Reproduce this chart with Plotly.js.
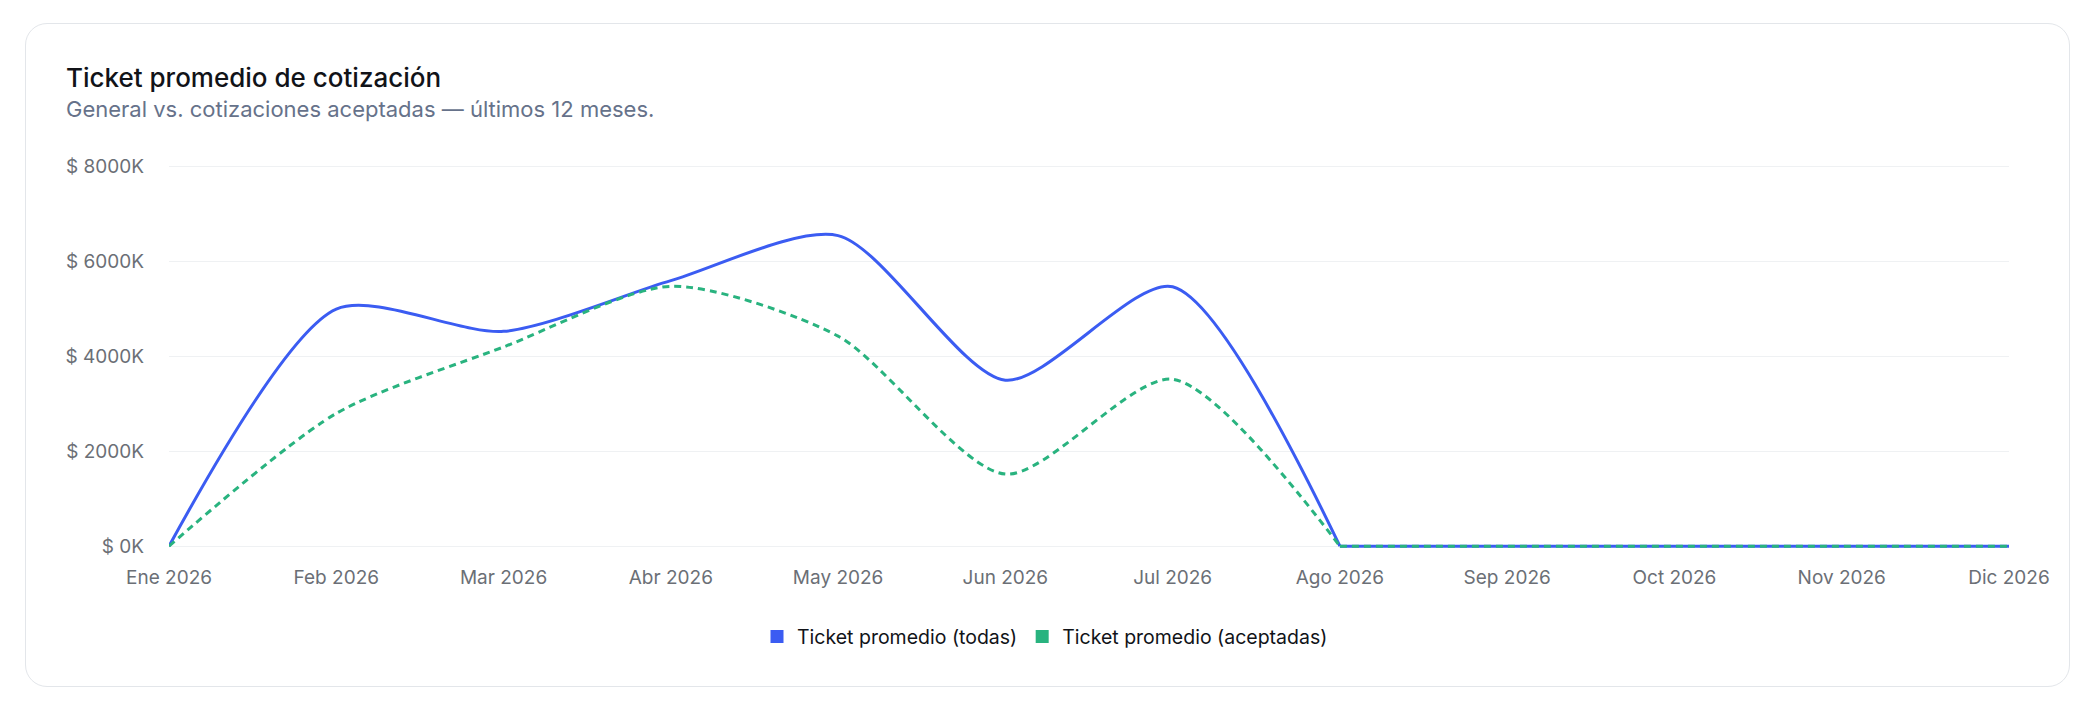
<!DOCTYPE html>
<html>
<head>
<meta charset="utf-8">
<script src="https://cdn.plot.ly/plotly-3.0.1.min.js"></script>
<style>
  html, body { margin: 0; padding: 0; background: #ffffff; width: 2090px; height: 707px; overflow: hidden; }
  #card { position: absolute; left: 25px; top: 23px; width: 2043px; height: 662px; border: 1.5px solid #e3e6ea; border-radius: 22px; background: #fff; }
  #chart { position: absolute; left: 0; top: 0; width: 2090px; height: 707px; }
</style>
</head>
<body>
<div id="card"></div>
<div id="chart"></div>
<script>
// Data (values in thousands of pesos)
const months = ["Ene 2026", "Feb 2026", "Mar 2026", "Abr 2026", "May 2026", "Jun 2026",
                "Jul 2026", "Ago 2026", "Sep 2026", "Oct 2026", "Nov 2026", "Dic 2026"];
const ticketTodas = [0, 5000, 4530, 5600, 6550, 3500, 5470, 0, 0, 0, 0, 0];
const ticketAceptadas = [0, 2800, 4200, 5480, 4430, 1520, 3520, 0, 0, 0, 0, 0];
const yTicks = [0, 2000, 4000, 6000, 8000];
const seriesNames = ["Ticket promedio (todas)", "Ticket promedio (aceptadas)"];

const blue = "#3b5cf2";
const green = "#29b37f";
const FONT = "Inter, 'Noto Sans', sans-serif";

// first month of the flat (zero) tail
const lastActive = 7;

const W = 2090, H = 707;
const yMin = -60, yMax = 8060;
const pxPerUnit = 379 / 8000;
const L = 169, R = 2009;
const T = 167 - (yMax - 8000) * pxPerUnit;
const B = 546 - yMin * pxPerUnit;
const pw = R - L, ph = B - T;

function segs(vals, color, dash, name) {
  const line = { color: color, width: 3 };
  if (dash) line.dash = dash;
  return [
    {
      x: months.slice(0, lastActive + 1), y: vals.slice(0, lastActive + 1),
      type: "scatter", mode: "lines",
      line: Object.assign({}, line, { shape: "spline", smoothing: 0.75 }),
      name: name, showlegend: false, hoverinfo: "skip"
    },
    {
      x: months.slice(lastActive), y: vals.slice(lastActive),
      type: "scatter", mode: "lines",
      line: Object.assign({}, line, { shape: "linear" }),
      name: name, showlegend: false, hoverinfo: "skip"
    }
  ];
}

const traces = [
  ...segs(ticketTodas, blue, null, seriesNames[0]),
  ...segs(ticketAceptadas, green, "7px,5px", seriesNames[1]),
  {
    x: [null], y: [null], type: "scatter", mode: "markers",
    marker: { symbol: "square", size: 13, color: blue },
    name: seriesNames[0], showlegend: true, hoverinfo: "skip"
  },
  {
    x: [null], y: [null], type: "scatter", mode: "markers",
    marker: { symbol: "square", size: 13, color: green },
    name: seriesNames[1], showlegend: true, hoverinfo: "skip"
  }
];

const layout = {
  width: W, height: H,
  paper_bgcolor: "rgba(0,0,0,0)",
  plot_bgcolor: "rgba(0,0,0,0)",
  margin: { l: L, r: W - R, t: T, b: H - B, pad: 0 },
  font: { family: FONT, color: "#6b6f76", size: 19 },
  title: {
    text: "Ticket promedio de cotización",
    font: { family: FONT, size: 26, color: "#111318", weight: 500 },
    xref: "container", yref: "container",
    x: 66 / W, xanchor: "left",
    y: 1 - 78 / H, yanchor: "middle"
  },
  annotations: [{
    text: "General vs. cotizaciones aceptadas — últimos 12 meses.",
    xref: "paper", yref: "paper",
    x: (64 - L) / pw, xanchor: "left",
    y: (B - 109) / ph, yanchor: "middle",
    showarrow: false,
    font: { family: FONT, size: 22, color: "#66728a" }
  }],
  xaxis: {
    type: "category",
    range: [0, months.length - 1],
    showgrid: false, zeroline: false, showline: false,
    ticks: "", ticklabelstandoff: 15,
    tickfont: { family: FONT, size: 19, color: "#6b6f76" },
    fixedrange: true
  },
  yaxis: {
    range: [yMin, yMax],
    tickvals: yTicks,
    ticktext: yTicks.map(v => "$ " + v + "K"),
    showgrid: true, gridcolor: "#eff1f3", gridwidth: 1.2,
    zeroline: true, zerolinecolor: "#eff1f3", zerolinewidth: 1.2,
    showline: false, ticks: "", ticklabelstandoff: 24,
    tickfont: { family: FONT, size: 19, color: "#6b6f76" },
    fixedrange: true
  },
  showlegend: true,
  legend: {
    orientation: "h",
    x: (1045 - L) / pw, xanchor: "center",
    y: -(631 - 546) / ph - (B - 546) / ph, yanchor: "middle",
    font: { family: FONT, size: 19.5, color: "#111318" },
    itemwidth: 30,
    bgcolor: "rgba(0,0,0,0)"
  }
};

Plotly.newPlot("chart", traces, layout, { displayModeBar: false, staticPlot: true });
</script>
</body>
</html>
